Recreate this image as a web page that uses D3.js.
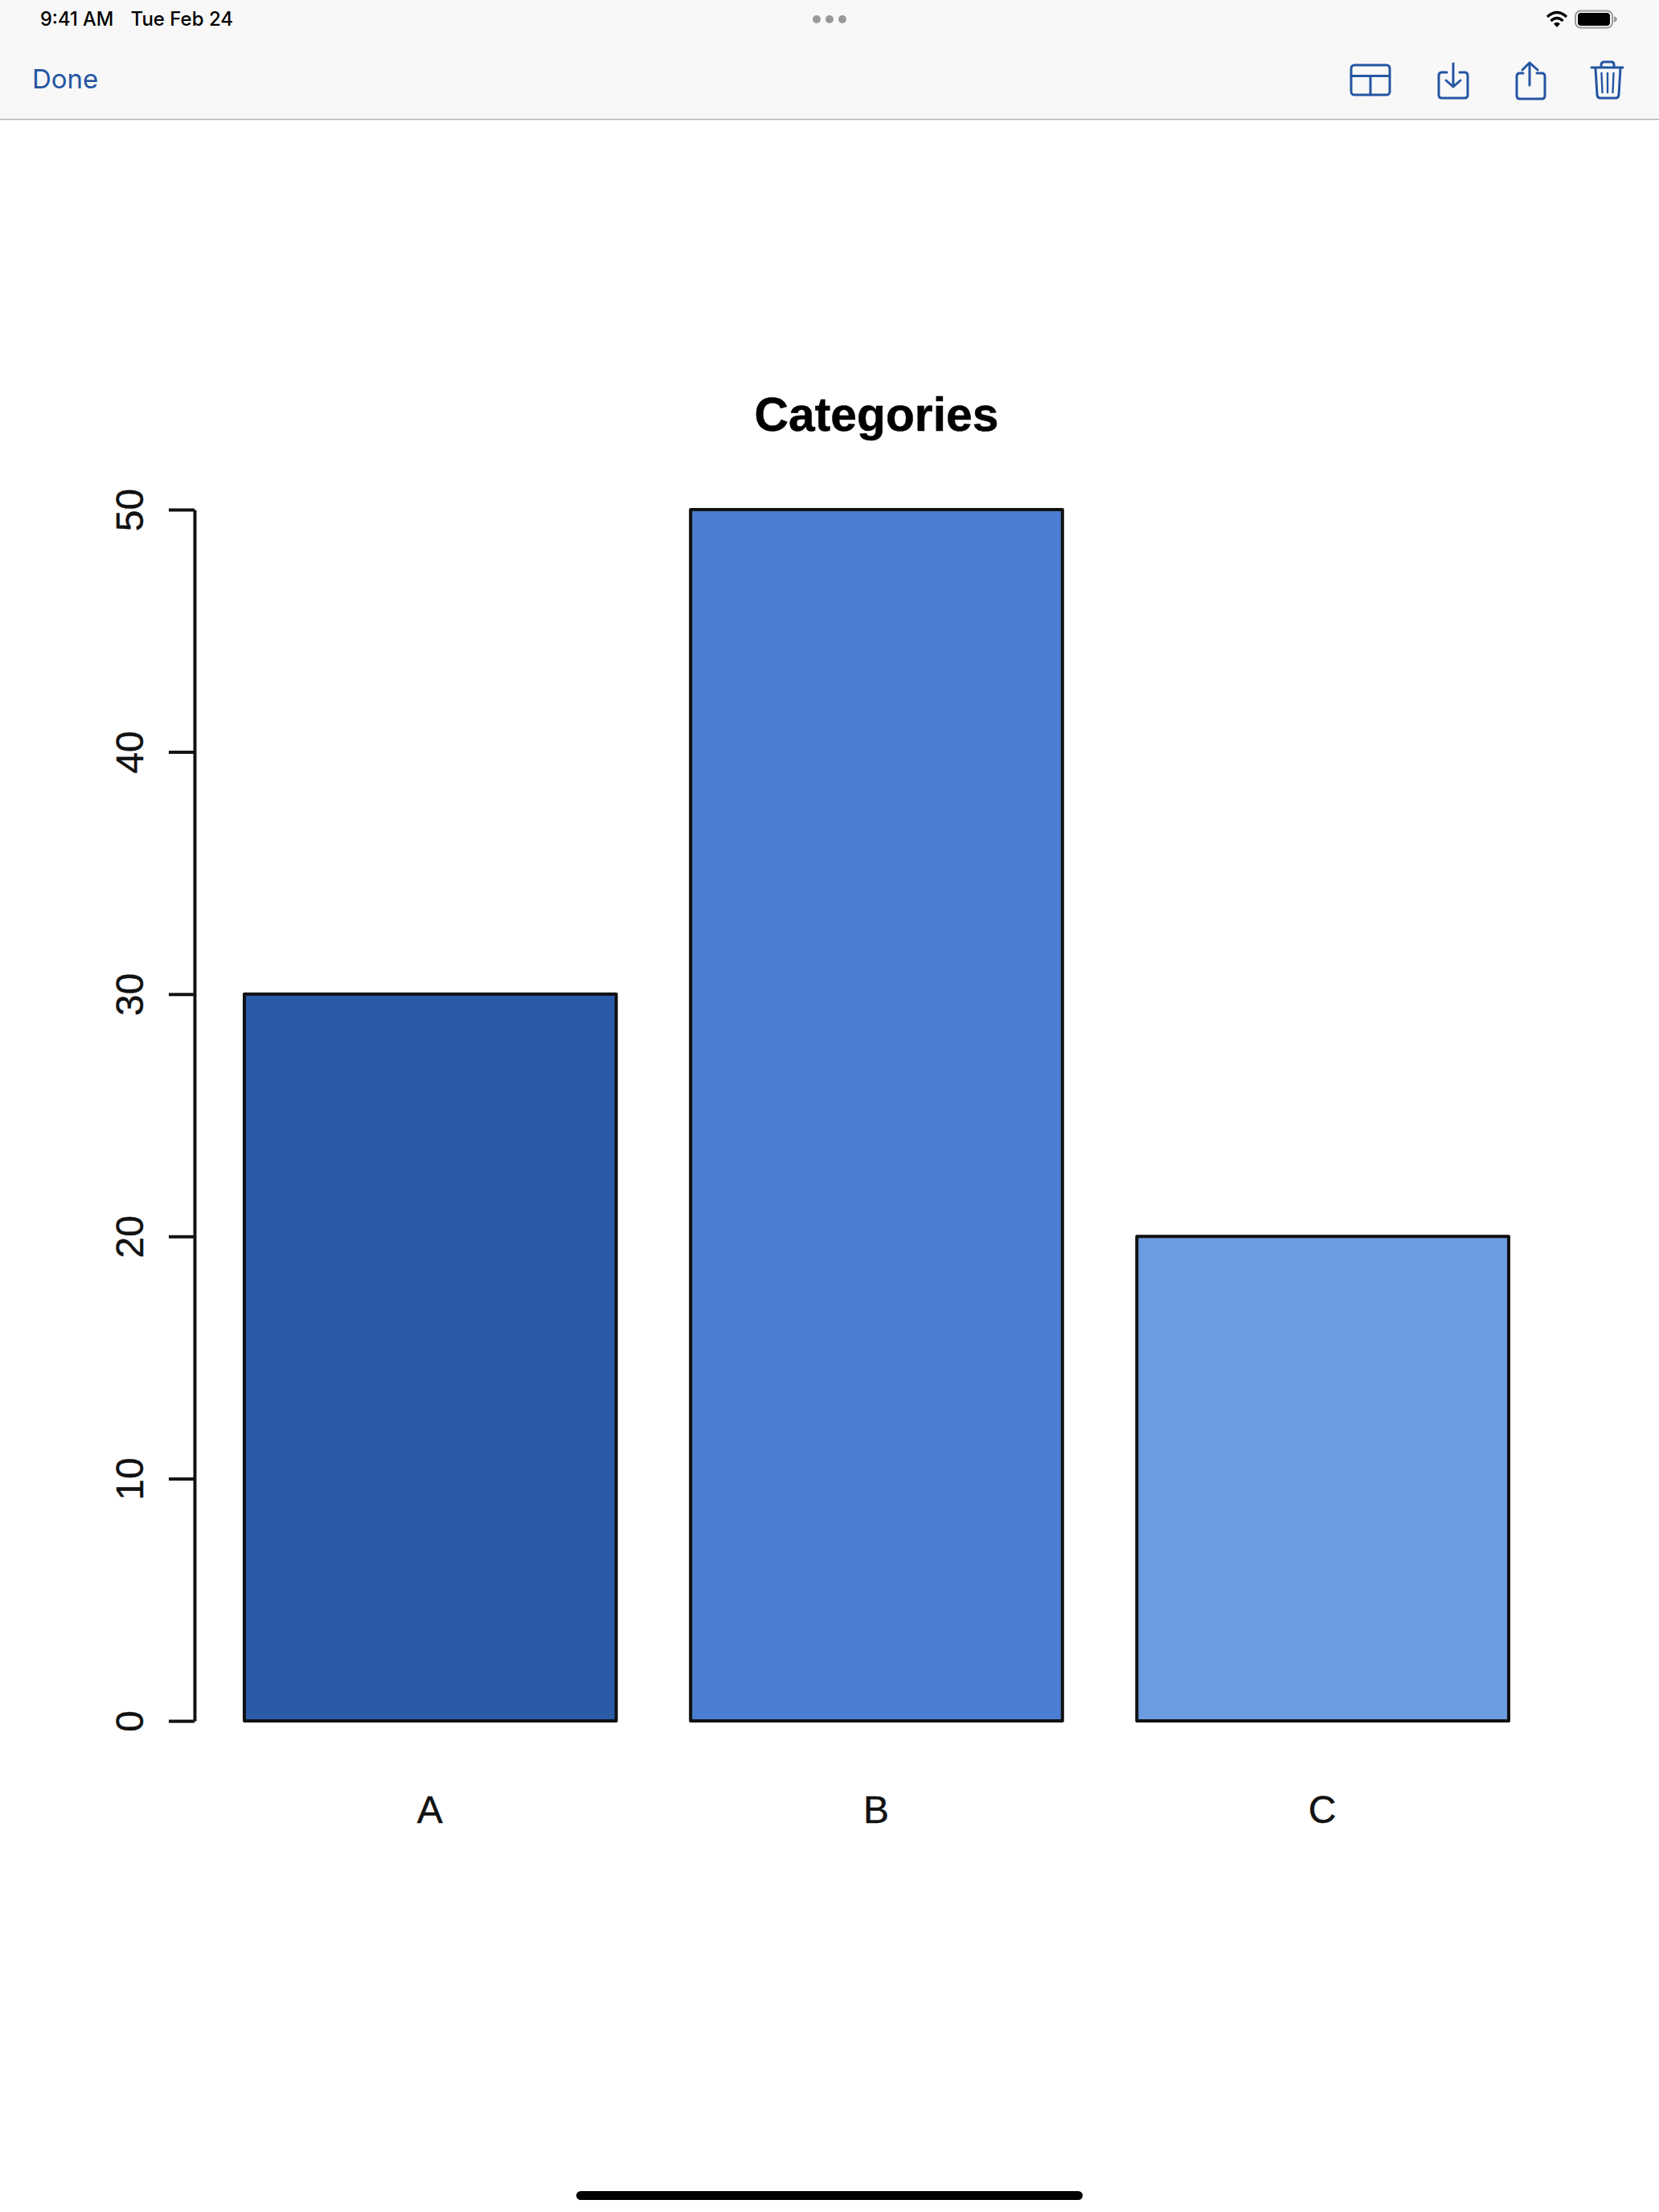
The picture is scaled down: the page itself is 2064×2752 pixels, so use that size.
<!DOCTYPE html>
<html>
<head>
<meta charset="utf-8">
<script src="https://cdn.jsdelivr.net/npm/d3@7"></script>
<style>
html, body { margin: 0; padding: 0; background: #fff; }
svg { display: block; }
</style>
</head>
<body>
<script>
// chart values
const categories = ["A", "B", "C"];
const values = [30, 50, 20];
const yTicks = [0, 10, 20, 30, 40, 50];

const pageW = 2064, pageH = 2752;
const blue = "#2456a2";
const chartFont = "'Liberation Sans', Arial, sans-serif";
const uiFont = "Inter, 'Noto Sans', sans-serif";

const svg = d3.select("body").append("svg")
    .attr("width", pageW)
    .attr("height", pageH)
    .attr("viewBox", `0 0 ${pageW} ${pageH}`);

svg.append("rect").attr("width", pageW).attr("height", pageH).attr("fill", "#fff");

// --- iPad chrome ---
const bar = svg.append("g");
bar.append("rect").attr("width", pageW).attr("height", 148).attr("fill", "#f8f8f8");
bar.append("line").attr("x1", 0).attr("x2", pageW).attr("y1", 148.5).attr("y2", 148.5)
    .attr("stroke", "#b4b4b4").attr("stroke-width", 1.5);

bar.append("text").attr("x", 50).attr("y", 32).text("9:41 AM")
    .attr("font-family", uiFont).attr("font-size", 23.6).attr("font-weight", 500).attr("fill", "#000");
bar.append("text").attr("x", 162.5).attr("y", 32).text("Tue Feb 24")
    .attr("font-family", uiFont).attr("font-size", 24).attr("font-weight", 500).attr("fill", "#000");
bar.append("text").attr("x", 40).attr("y", 110).text("Done")
    .attr("font-family", uiFont).attr("font-size", 33).attr("fill", blue);

bar.selectAll(".dot").data([1016, 1032, 1048]).join("circle")
    .attr("class", "dot").attr("cx", d => d).attr("cy", 24).attr("r", 5).attr("fill", "#999");

// wifi
const wifi = bar.append("g").attr("fill", "none").attr("stroke", "#000").attr("stroke-width", 3.2);
wifi.append("path").attr("d", "M1925 21 Q1937 10 1949 21");
wifi.append("path").attr("d", "M1929.5 26 Q1937 19 1944.5 26");
bar.append("path").attr("d", "M1933 29.5 Q1937 26 1941 29.5 L1937 34 Z").attr("fill", "#000");

// battery
bar.append("rect").attr("x", 1960).attr("y", 13.5).attr("width", 46).attr("height", 21).attr("rx", 6.5)
    .attr("fill", "none").attr("stroke", "#999").attr("stroke-width", 2);
bar.append("rect").attr("x", 1963).attr("y", 16).attr("width", 40).attr("height", 16).attr("rx", 4).attr("fill", "#000");
bar.append("path").attr("d", "M2008 20 Q2012 22 2012 24 Q2012 26 2008 28 Z").attr("fill", "#999");

// toolbar icons
const icons = bar.append("g").attr("fill", "none").attr("stroke", blue).attr("stroke-width", 3)
    .attr("stroke-linecap", "round").attr("stroke-linejoin", "round");
icons.append("rect").attr("x", 1681).attr("y", 81).attr("width", 48).attr("height", 37).attr("rx", 4);
icons.append("path").attr("d", "M1681 94.5 H1729 M1705 94.5 V118");
icons.append("path").attr("d", "M1800 90 H1794 Q1790 90 1790 94 V118 Q1790 122 1794 122 H1822 Q1826 122 1826 118 V94 Q1826 90 1822 90 H1816");
icons.append("path").attr("d", "M1808 79 V108 M1799 100 L1808 108 L1817 100");
icons.append("path").attr("d", "M1895 91 H1891 Q1887 91 1887 95 V119 Q1887 123 1891 123 H1918 Q1922 123 1922 119 V95 Q1922 91 1918 91 H1912");
icons.append("path").attr("d", "M1903 106 V78 M1894 87 L1903 78 L1913 87");
icons.append("path").attr("d", "M1980 84 H2019");
icons.append("path").attr("d", "M1992 83 V81 Q1992 77 1996 77 H2005 Q2008 77 2008 81 V83");
icons.append("path").attr("d", "M1985 85 L1987 118 Q1987.5 122 1991 122 H2010 Q2013.5 122 2014 118 L2016 85");
icons.append("path").attr("stroke-width", 2.4).attr("d", "M1992.5 91 L1993.5 115 M2000 91 V115 M2007.5 91 L2006.5 115");

// home indicator
svg.append("rect").attr("x", 717).attr("y", 2726).attr("width", 630).attr("height", 11).attr("rx", 5.5).attr("fill", "#000");

// --- chart ---
const x = d3.scaleBand()
    .domain(categories)
    .range([304, 1877])
    .paddingInner(0.1667)
    .paddingOuter(0);

const y = d3.scaleLinear().domain([0, 50]).range([2141, 634]);

const color = d3.scaleOrdinal().domain(categories).range(["#2b5aa7", "#4b7ed2", "#6c9ce2"]);

svg.selectAll(".bar")
    .data(categories.map((c, i) => ({category: c, value: values[i]})))
    .join("rect")
    .attr("class", "bar")
    .attr("x", d => x(d.category))
    .attr("y", d => y(d.value))
    .attr("width", x.bandwidth())
    .attr("height", d => y(0) - y(d.value))
    .attr("fill", d => color(d.category))
    .attr("stroke", "#111")
    .attr("stroke-width", 4)
    .attr("stroke-linejoin", "round");

const yAxis = svg.append("g")
    .attr("transform", "translate(242,0)")
    .call(d3.axisLeft(y).tickValues(yTicks).tickSize(32).tickSizeOuter(0));

yAxis.selectAll("path, line").attr("stroke", "#111").attr("stroke-width", 4);
yAxis.selectAll("text")
    .attr("x", null).attr("dy", null)
    .attr("transform", "translate(-64,0) rotate(-90)")
    .attr("text-anchor", "middle")
    .attr("font-family", chartFont)
    .attr("font-size", 48)
    .attr("fill", "#111")
    .attr("stroke", "#111")
    .attr("stroke-width", 0.4);

const xAxis = svg.append("g")
    .attr("transform", "translate(-0.5,2141)")
    .call(d3.axisBottom(x).tickSize(0));

xAxis.select(".domain").remove();
xAxis.selectAll("text")
    .attr("y", 127).attr("dy", null)
    .attr("font-family", chartFont)
    .attr("font-size", 48)
    .attr("fill", "#111")
    .attr("stroke", "#111")
    .attr("stroke-width", 0.4);

svg.append("text")
    .attr("x", 1090.5).attr("y", 536)
    .attr("text-anchor", "middle")
    .attr("font-family", chartFont)
    .attr("font-size", 58.8)
    .attr("font-weight", "bold")
    .attr("fill", "#000")
    .attr("stroke", "#000")
    .attr("stroke-width", 0.5)
    .text("Categories");
</script>
</body>
</html>
